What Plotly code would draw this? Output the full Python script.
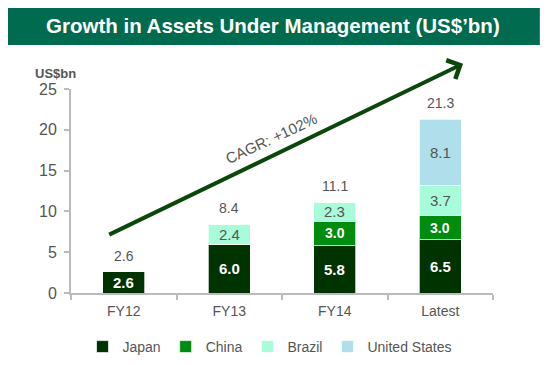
import plotly.graph_objects as go

categories = ["FY12", "FY13", "FY14", "Latest"]
japan = [2.6, 6.0, 5.8, 6.5]
china = [None, None, 3.0, 3.0]
brazil = [None, 2.4, 2.3, 3.7]
united_states = [None, None, None, 8.1]
totals = [2.6, 8.4, 11.1, 21.3]
y_ticks = [0, 5, 10, 15, 20, 25]

FONT = "Arial, Liberation Sans, sans-serif"
GREY = "#555555"

series = [
    ("Japan", japan, "#003300", "white", True, 15),
    ("China", china, "#008C0E", "white", True, 14),
    ("Brazil", brazil, "#A8FCDA", GREY, False, 15),
    ("United States", united_states, "#AEDFEA", GREY, False, 15),
]

fig = go.Figure()
base = [0.0] * len(categories)
for name, vals, color, tcolor, bold, fsize in series:
    yv = [v if v is not None else 0 for v in vals]
    fig.add_trace(go.Bar(
        x=categories, y=yv, name=name,
        marker=dict(color=color, line=dict(color="rgba(255,255,255,0.7)", width=1)),
        textposition="none", width=0.4,
    ))
    for i, v in enumerate(vals):
        if v is not None:
            fig.add_annotation(x=categories[i], y=base[i] + v / 2, text=f"{v:.1f}", showarrow=False,
                               xanchor="center", yanchor="middle",
                               font=dict(family=FONT, size=fsize, color=tcolor,
                                         weight="bold" if bold else "normal"))
    base = [b + y for b, y in zip(base, yv)]

for c, t in zip(categories, totals):
    fig.add_annotation(x=c, y=t, text=f"{t:.1f}", showarrow=False, xanchor="center",
                       yanchor="bottom", yshift=6, font=dict(family=FONT, size=14, color=GREY))

# growth arrow
fig.add_annotation(x=3.216, y=28.1, ax=-0.152, ay=7.06, xref="x", yref="y", axref="x", ayref="y",
                   showarrow=True, arrowhead=4, arrowsize=1, arrowwidth=4, arrowcolor="#0B470B",
                   text="")
fig.add_annotation(x=1.396, y=18.9, xref="x", yref="y", text="CAGR: +102%", showarrow=False,
                   xanchor="center", yanchor="middle",
                   textangle=-25, font=dict(family=FONT, size=15, color=GREY))

# title banner
fig.add_shape(type="rect", xref="paper", yref="paper", x0=-0.152, x1=1.111, y0=1.216, y1=1.41,
              fillcolor="#006B4E", line=dict(width=0), layer="above")
fig.add_annotation(xref="paper", yref="paper", x=(273 - 71) / 422, y=(293 - 25) / 204,
                   xanchor="center", yanchor="middle",
                   text="<b>Growth in Assets Under Management (US$’bn)</b>", showarrow=False,
                   font=dict(family=FONT, size=20.5, color="white"))
fig.add_annotation(xref="paper", yref="paper", x=(55 - 71) / 422, y=(293 - 73) / 204,
                   xanchor="center", yanchor="middle",
                   text="<b>US$bn</b>", showarrow=False,
                   font=dict(family=FONT, size=13, color=GREY))

fig.update_layout(
    width=542, height=357, barmode="stack",
    margin=dict(l=63, r=57, t=81, b=72, autoexpand=False),
    paper_bgcolor="white", plot_bgcolor="white",
    font=dict(family=FONT, color=GREY),
    showlegend=True,
    legend=dict(orientation="h", x=(270 - 71) / 422, xanchor="center", y=(293 - 347) / 204,
                yanchor="middle", traceorder="normal", font=dict(family=FONT, size=14, color=GREY)),
)
fig.update_xaxes(showline=True, linecolor="#BBBBBB", linewidth=2, ticks="outside",
                 tickson="boundaries", ticklen=5, tickcolor="#BBBBBB", tickwidth=1.5,
                 ticklabelstandoff=4,
                 tickfont=dict(family=FONT, size=14, color=GREY), showgrid=False)
fig.update_yaxes(range=[0, 25], tickvals=y_ticks, showline=True, linecolor="#BBBBBB", linewidth=2,
                 ticks="outside", ticklen=5, tickcolor="#BBBBBB", tickwidth=1.5, showgrid=False,
                 zeroline=False, ticklabelstandoff=4,
                 tickfont=dict(family=FONT, size=16, color=GREY))

fig.write_html("out.html")
